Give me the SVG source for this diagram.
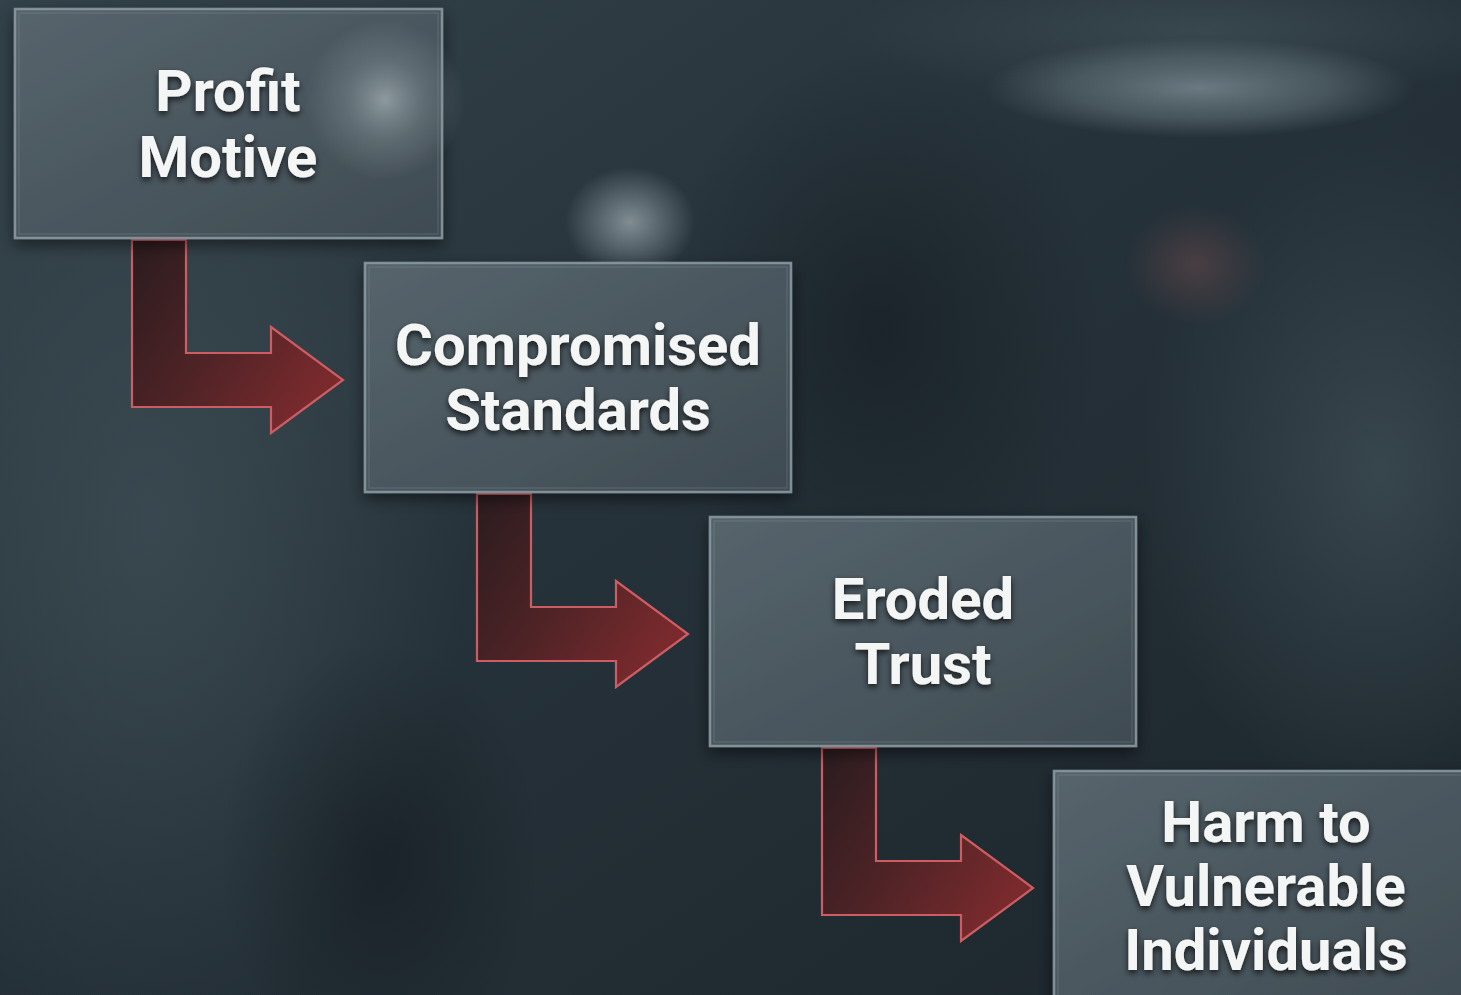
<svg xmlns="http://www.w3.org/2000/svg" width="1461" height="995" viewBox="0 0 1461 995">
<defs>
<linearGradient id="bg" x1="0" y1="0" x2="1" y2="1">
<stop offset="0" stop-color="#33424a"/>
<stop offset="0.45" stop-color="#26323a"/>
<stop offset="1" stop-color="#1c252b"/>
</linearGradient>
<radialGradient id="rgLight" cx="0.5" cy="0.5" r="0.5">
<stop offset="0" stop-color="#3d4c54" stop-opacity="0.8"/>
<stop offset="1" stop-color="#3d4c54" stop-opacity="0"/>
</radialGradient>
<radialGradient id="rgDark" cx="0.5" cy="0.5" r="0.5">
<stop offset="0" stop-color="#141b20" stop-opacity="0.6"/>
<stop offset="1" stop-color="#141b20" stop-opacity="0"/>
</radialGradient>
<radialGradient id="rgStreak" cx="0.5" cy="0.5" r="0.5">
<stop offset="0" stop-color="#73828a" stop-opacity="0.9"/>
<stop offset="0.6" stop-color="#5d6c74" stop-opacity="0.6"/>
<stop offset="1" stop-color="#5d6c74" stop-opacity="0"/>
</radialGradient>
<radialGradient id="rgSpot" cx="0.5" cy="0.5" r="0.5">
<stop offset="0" stop-color="#909ca2" stop-opacity="0.85"/>
<stop offset="1" stop-color="#909ca2" stop-opacity="0"/>
</radialGradient>
<radialGradient id="rgRed" cx="0.5" cy="0.5" r="0.5">
<stop offset="0" stop-color="#4d4044" stop-opacity="0.9"/>
<stop offset="1" stop-color="#4d4044" stop-opacity="0"/>
</radialGradient>
<filter id="tshadow" x="-20%" y="-20%" width="140%" height="160%"><feDropShadow dx="0" dy="3" stdDeviation="3" flood-color="#000" flood-opacity="0.75"/></filter>
<filter id="bshadow" x="-20%" y="-20%" width="140%" height="140%"><feDropShadow dx="0" dy="6" stdDeviation="8" flood-color="#000" flood-opacity="0.5"/></filter>
<linearGradient id="boxg" x1="0" y1="0" x2="1" y2="1">
<stop offset="0" stop-color="#56646c"/>
<stop offset="1" stop-color="#3f4b52"/>
</linearGradient>
<radialGradient id="glint" cx="0.5" cy="0.5" r="0.5">
<stop offset="0" stop-color="#a4b0b5" stop-opacity="0.75"/>
<stop offset="0.5" stop-color="#8b989e" stop-opacity="0.35"/>
<stop offset="1" stop-color="#8b989e" stop-opacity="0"/>
</radialGradient>
<linearGradient id="arrowg" x1="0" y1="0" x2="1" y2="0.6">
<stop offset="0" stop-color="#2a1c1f"/>
<stop offset="0.5" stop-color="#4e2326"/>
<stop offset="1" stop-color="#7a2a2d"/>
</linearGradient>
<style>
.box{fill:url(#boxg);stroke:#8d9ca3;stroke-width:2.5;stroke-opacity:0.85;filter:url(#bshadow)}
.inner{fill:none;stroke:#a8b4b9;stroke-width:1;stroke-opacity:0.25}
.lbl{font-family:Roboto,"Liberation Sans",sans-serif;font-weight:700;font-size:58px;fill:#f4f5f5;text-anchor:middle;filter:url(#tshadow)}
.arrow{fill:url(#arrowg);stroke:#cc5d62;stroke-width:2.2;stroke-linejoin:miter}
</style>
</defs>
<g id="background">
<rect width="1461" height="995" fill="url(#bg)"/>
<ellipse cx="150" cy="520" rx="320" ry="520" fill="url(#rgLight)"/>
<ellipse cx="380" cy="860" rx="160" ry="220" fill="url(#rgDark)"/>
<ellipse cx="1380" cy="470" rx="240" ry="340" fill="url(#rgLight)"/>
<ellipse cx="880" cy="330" rx="220" ry="280" fill="url(#rgDark)"/>
<ellipse cx="1200" cy="30" rx="360" ry="70" fill="url(#rgLight)"/>
<ellipse cx="1200" cy="88" rx="215" ry="50" fill="url(#rgStreak)"/>
<ellipse cx="630" cy="222" rx="65" ry="55" fill="url(#rgSpot)"/>
<ellipse cx="1195" cy="265" rx="70" ry="60" fill="url(#rgRed)"/>
</g>
<g id="connectors">
<path class="arrow" d="M132,240 L186,240 L186,353 L271,353 L271,327 L343,380 L271,433 L271,407 L132,407 Z"/>
<path class="arrow" d="M477,494 L531,494 L531,607 L616,607 L616,581 L688,634 L616,687 L616,661 L477,661 Z"/>
<path class="arrow" d="M822,748 L876,748 L876,861 L961,861 L961,835 L1033,888 L961,941 L961,915 L822,915 Z"/>
</g>
<g id="node-profit">
<rect class="box" x="15" y="9" width="427" height="229"/>
<rect class="inner" x="19" y="13" width="419" height="221"/>
<ellipse cx="385" cy="100" rx="80" ry="80" fill="url(#glint)"/>
<text class="lbl" x="228" y="111">Profit</text>
<text class="lbl" x="228" y="177">Motive</text>
</g>
<g id="node-standards">
<rect class="box" x="365" y="263" width="426" height="229"/>
<rect class="inner" x="369" y="267" width="418" height="221"/>
<text class="lbl" x="578" y="365">Compromised</text>
<text class="lbl" x="578" y="430">Standards</text>
</g>
<g id="node-trust">
<rect class="box" x="710" y="517" width="426" height="229"/>
<rect class="inner" x="714" y="521" width="418" height="221"/>
<text class="lbl" x="923" y="619">Eroded</text>
<text class="lbl" x="923" y="684">Trust</text>
</g>
<g id="node-harm">
<rect class="box" x="1054" y="771" width="430" height="240"/>
<rect class="inner" x="1058" y="775" width="422" height="232"/>
<text class="lbl" x="1266" y="842">Harm to</text>
<text class="lbl" x="1266" y="906">Vulnerable</text>
<text class="lbl" x="1266" y="970">Individuals</text>
</g>
</svg>
